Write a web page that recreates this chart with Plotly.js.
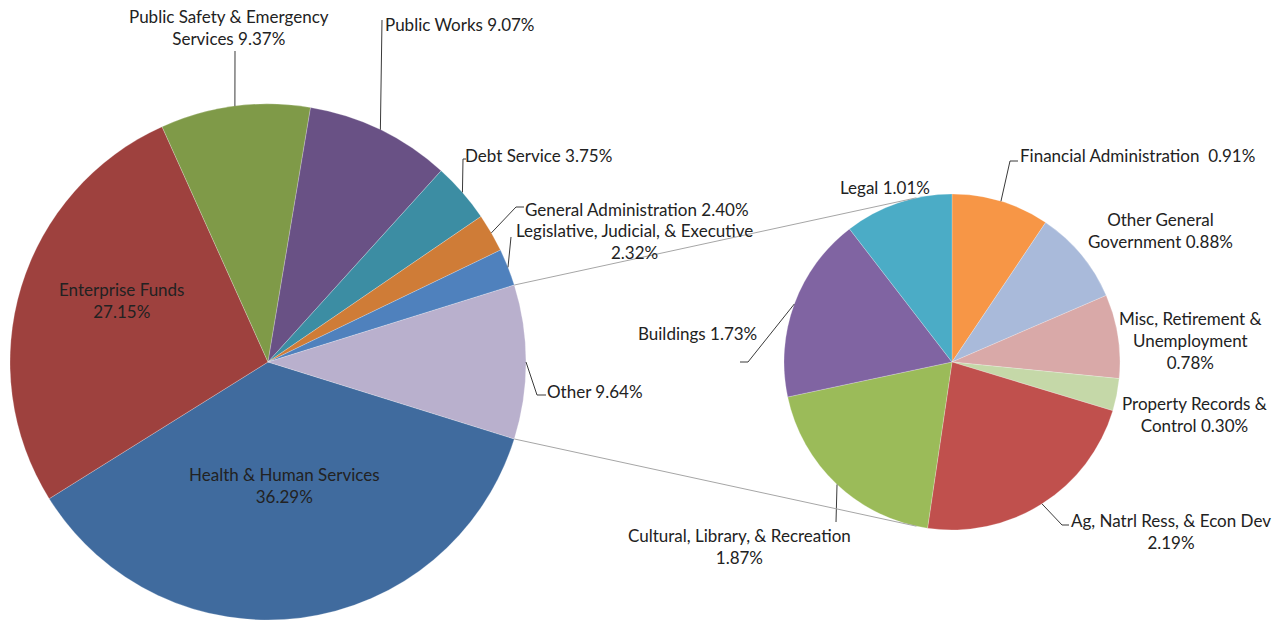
<!DOCTYPE html>
<html><head><meta charset="utf-8">
<script src="https://cdn.plot.ly/plotly-3.0.1.min.js"></script>
<style>html,body{margin:0;padding:0;background:#fff;} #chart{width:1283px;height:622px;}</style>
</head><body><div id="chart"></div>
<script>
const W = 1283, H = 622;

// ---- Data: main pie (percent of total budget) ----
const mainNames = ['Health & Human Services', 'Enterprise Funds', 'Public Safety & Emergency Services',
  'Public Works', 'Debt Service', 'General Administration', 'Legislative, Judicial, & Executive', 'Other'];
const mainValues = [36.29, 27.15, 9.37, 9.07, 3.75, 2.40, 2.32, 9.64];

// ---- Data: breakdown of "Other" ----
const subNames = ['Financial Administration ', 'Other General Government', 'Misc, Retirement & Unemployment',
  'Property Records & Control', 'Ag, Natrl Ress, & Econ Dev', 'Cultural, Library, & Recreation', 'Buildings', 'Legal'];
const subValues = [0.91, 0.88, 0.78, 0.30, 2.19, 1.87, 1.73, 1.01];

// ---- Styles ----
const mainColors = ['#406B9E', '#9E413E', '#7F9A48', '#695185', '#3C8DA3', '#CF7C37', '#4F81BD', '#B9B0CD'];
const subColors = ['#F79646', '#A9BADA', '#D9A9A8', '#C5D8A8', '#C0504D', '#9BBB59', '#8064A2', '#4BACC6'];
const FONT = {family: 'Lato, "Open Sans", sans-serif', size: 17, color: '#222222'};

// ---- Geometry (pixels) ----
const M = {cx: 268, cy: 362, r: 258};
const S = {cx: 952, cy: 362, r: 168};
const sum = a => a.reduce((s, v) => s + v, 0);
const mainTotal = sum(mainValues), subTotal = sum(subValues);
const otherDeg = mainValues[mainValues.length - 1] / mainTotal * 360;
M.rot = 90 + otherDeg / 2;   // "Other" slice centred at 3 o'clock
S.rot = 0;

// label layout: anchor, x, y, break-after-word indices, leader elbow points
const mainLabelPos = [
  {xa: 'center', x: 284, y: 485, br: [4]},
  {xa: 'center', x: 121, y: 301, br: [2]},
  {xa: 'center', x: 229, y: 28, br: [4], pts: [[235, 51]]},
  {xa: 'left', x: 383, y: 24, br: [], pts: [[382, 20]]},
  {xa: 'left', x: 463, y: 155, br: [], pts: [[463, 159], [466, 159]]},
  {xa: 'left', x: 523, y: 210, br: [], pts: [[516, 207], [524, 207]]},
  {xa: 'center', x: 634, y: 241, br: [4], pts: [[511, 237]]},
  {xa: 'left', x: 545, y: 391, br: [], pts: [[537, 395], [546, 395]]}
];
const subLabelPos = [
  {xa: 'left', x: 1018, y: 155, br: [], pts: [[1010, 161], [1018, 161]]},
  {xa: 'center', x: 1160, y: 231, br: [2]},
  {xa: 'center', x: 1190, y: 340, br: [3, 4]},
  {xa: 'center', x: 1194, y: 414, br: [3]},
  {xa: 'center', x: 1171, y: 531, br: [6], pts: [[1062, 525], [1069, 525]]},
  {xa: 'center', x: 739, y: 546, br: [4], pts: [[836, 522]]},
  {xa: 'center', x: 697, y: 333, br: [], pts: [[748, 362], [740, 362]]},
  {xa: 'center', x: 885, y: 187, br: []}
];

const px = x => x / W, py = y => 1 - y / H;
function edgePoint(g, deg) {
  const a = deg * Math.PI / 180;
  return [g.cx + g.r * Math.sin(a), g.cy - g.r * Math.cos(a)];
}
function sliceAngles(vals, rot) {
  const t = sum(vals); let c = 0;
  return vals.map(v => { const a0 = rot + c / t * 360; c += v; return [a0, rot + c / t * 360]; });
}
function labelText(name, v, br) {
  const words = (name.trim() + (name.endsWith(' ') ? '  ' : ' ') + v.toFixed(2) + '%').split(' ');
  let out = '';
  words.forEach((w, i) => { out += w; if (i < words.length - 1) out += br.includes(i + 1) ? '<br>' : ' '; });
  return out.replace(/ {2,}/g, m => '\u00a0'.repeat(m.length - 1) + ' ');
}

const annotations = [], shapes = [];
function addLabels(g, names, vals, pos) {
  const ang = sliceAngles(vals, g.rot);
  names.forEach((n, i) => {
    const p = pos[i];
    annotations.push({
      xref: 'paper', yref: 'paper', x: px(p.x), y: py(p.y), xanchor: p.xa, yanchor: 'middle',
      text: labelText(n, vals[i], p.br), showarrow: false, align: 'center', font: FONT
    });
    if (p.pts) {
      const e = edgePoint(g, (ang[i][0] + ang[i][1]) / 2);
      const all = [e].concat(p.pts);
      shapes.push({
        type: 'path', xref: 'paper', yref: 'paper',
        path: all.map((q, k) => (k ? 'L' : 'M') + px(q[0]) + ',' + py(q[1])).join(' '),
        line: {color: '#3a3a3a', width: 1}
      });
    }
  });
}
addLabels(M, mainNames, mainValues, mainLabelPos);
addLabels(S, subNames, subValues, subLabelPos);

// connector lines: from "Other" slice edges, tangent to secondary pie
const mAng = sliceAngles(mainValues, M.rot);
const oth = mAng[mAng.length - 1];
[[oth[0], -1], [oth[1], 1]].forEach(([deg, sgn]) => {
  const P = edgePoint(M, deg);
  const dx = S.cx - P[0], dy = S.cy - P[1];
  const d = Math.hypot(dx, dy);
  const phi = Math.atan2(dy, dx) + sgn * Math.asin(S.r / d);
  const L = Math.sqrt(d * d - S.r * S.r);
  const T = [P[0] + L * Math.cos(phi), P[1] + L * Math.sin(phi)];
  shapes.push({type: 'line', xref: 'paper', yref: 'paper', x0: px(P[0]), y0: py(P[1]), x1: px(T[0]), y1: py(T[1]),
    line: {color: '#A6A6A6', width: 1}});
});

const dom = g => ({x: [(g.cx - g.r) / W, (g.cx + g.r) / W], y: [1 - (g.cy + g.r) / H, 1 - (g.cy - g.r) / H]});

const data = [
  {type: 'pie', labels: mainNames, values: mainValues, sort: false, direction: 'clockwise', rotation: M.rot,
   marker: {colors: mainColors, line: {color: 'rgba(255,255,255,0.45)', width: 0.5}},
   textinfo: 'none', hoverinfo: 'skip', domain: dom(M), showlegend: false},
  {type: 'pie', labels: subNames, values: subValues, sort: false, direction: 'clockwise', rotation: S.rot,
   marker: {colors: subColors, line: {color: 'rgba(255,255,255,0.45)', width: 0.5}},
   textinfo: 'none', hoverinfo: 'skip', domain: dom(S), showlegend: false}
];
const layout = {
  width: W, height: H, margin: {l: 0, r: 0, t: 0, b: 0},
  paper_bgcolor: '#ffffff', plot_bgcolor: '#ffffff', showlegend: false,
  annotations: annotations, shapes: shapes, font: FONT
};
Plotly.newPlot('chart', data, layout, {staticPlot: true, displayModeBar: false});
</script>
</body></html>
